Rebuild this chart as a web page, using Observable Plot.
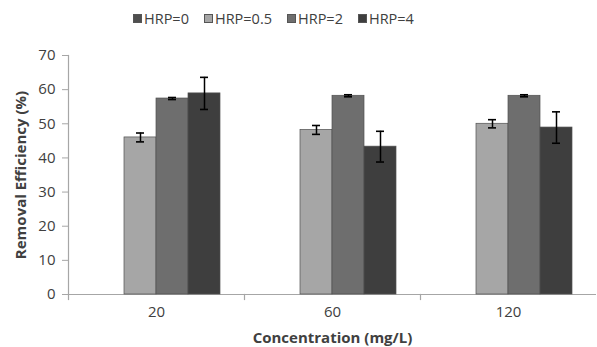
<!DOCTYPE html>
<html><head><meta charset="utf-8">
<script src="https://cdn.jsdelivr.net/npm/d3@7"></script>
<script src="https://cdn.jsdelivr.net/npm/@observablehq/plot@0.6"></script>
<style>
body{margin:0;background:#fff;font-family:"Open Sans",sans-serif;}
#legend{height:36px;display:flex;align-items:center;padding-left:133px;box-sizing:border-box;font-size:14.5px;color:#404040;}
#legend .item{display:flex;align-items:center;margin-right:15px;}
#legend .sw{width:9px;height:9px;margin-right:2px;box-sizing:border-box;border:0.5px solid #555;}
g[aria-label="y-axis label"] text, g[aria-label="fx-axis label"] text{font-weight:bold;font-size:15px;}
</style></head><body>
<div id="legend"></div><div id="chart"></div>
<script>
const groups = [20, 60, 120];
const series = ["HRP=0", "HRP=0.5", "HRP=2", "HRP=4"];
const colors = ["#4f4f4f", "#a6a6a6", "#6e6e6e", "#3e3e3e"];
const hrp0 = [0, 0, 0];
const hrp05 = [46.0, 48.2, 50.0];
const hrp2 = [57.4, 58.2, 58.2];
const hrp4 = [58.9, 43.3, 48.9];
const err0 = [0, 0, 0];
const err05 = [1.3, 1.3, 1.2];
const err2 = [0.3, 0.3, 0.3];
const err4 = [4.7, 4.5, 4.6];
const yTicks = [0, 10, 20, 30, 40, 50, 60, 70];
const xLabel = "Concentration (mg/L)";
const yLabel = "Removal Efficiency (%)";

const vals = [hrp0, hrp05, hrp2, hrp4];
const errs = [err0, err05, err2, err4];
const data = [];
groups.forEach((g, i) => series.forEach((s, j) => data.push({group: g, series: s, value: vals[j][i], err: errs[j][i]})));
const bars = data.filter(d => d.value > 0);
const errData = data.filter(d => d.err > 0);

const legend = document.getElementById("legend");
series.forEach((s, j) => {
  const it = document.createElement("div"); it.className = "item";
  const sw = document.createElement("span"); sw.className = "sw"; sw.style.background = colors[j];
  const tx = document.createElement("span"); tx.textContent = s;
  it.appendChild(sw); it.appendChild(tx); legend.appendChild(it);
});

const H = 311, MT = 19, MB = 53;
const plot = Plot.plot({
  width: 597, height: H, marginTop: MT, marginBottom: MB, marginLeft: 67, marginRight: 0,
  style: {fontFamily: "Open Sans", fontSize: "15px", color: "#404040", background: "#fff"},
  fx: {domain: groups, padding: 0, axis: null, label: null},
  x: {domain: series, paddingInner: 0, paddingOuter: 0.72, axis: null},
  y: {domain: [0, 70], axis: null},
  color: {domain: series, range: colors},
  marks: [
    Plot.ruleY([0], {stroke: "#a6a6a6", strokeWidth: 1.2}),
    Plot.frame({anchor: "left", insetTop: H - MT - MB, insetBottom: -5, stroke: "#a6a6a6", strokeWidth: 1.2}),
    Plot.frame({anchor: "left", facetAnchor: "left", stroke: "#a6a6a6", strokeWidth: 1.2}),
    Plot.barY(bars, {fx: "group", x: "series", y: "value", fill: "series", stroke: "#505050", strokeWidth: 0.7}),
    Plot.ruleX(errData, {fx: "group", x: "series", y1: d => d.value - d.err, y2: d => d.value + d.err, stroke: "#000", strokeWidth: 1.5}),
    Plot.tickY(errData, {fx: "group", x: "series", y: d => d.value - d.err, insetLeft: 12, insetRight: 12, stroke: "#000", strokeWidth: 1.6}),
    Plot.tickY(errData, {fx: "group", x: "series", y: d => d.value + d.err, insetLeft: 12, insetRight: 12, stroke: "#000", strokeWidth: 1.6}),
    Plot.axisY({ticks: yTicks, tickSize: 6, tickPadding: 7, stroke: "#a6a6a6", fill: "#404040", fontSize: 15,
      label: yLabel, labelAnchor: "center", labelOffset: 53, labelArrow: "none"}),
    Plot.axisFx({anchor: "bottom", tickSize: 0, tickPadding: 12, fill: "#404040", fontSize: 15,
      label: xLabel, labelAnchor: "center", labelOffset: 48, labelArrow: "none"})
  ]
});
document.getElementById("chart").appendChild(plot);
</script>
</body></html>
